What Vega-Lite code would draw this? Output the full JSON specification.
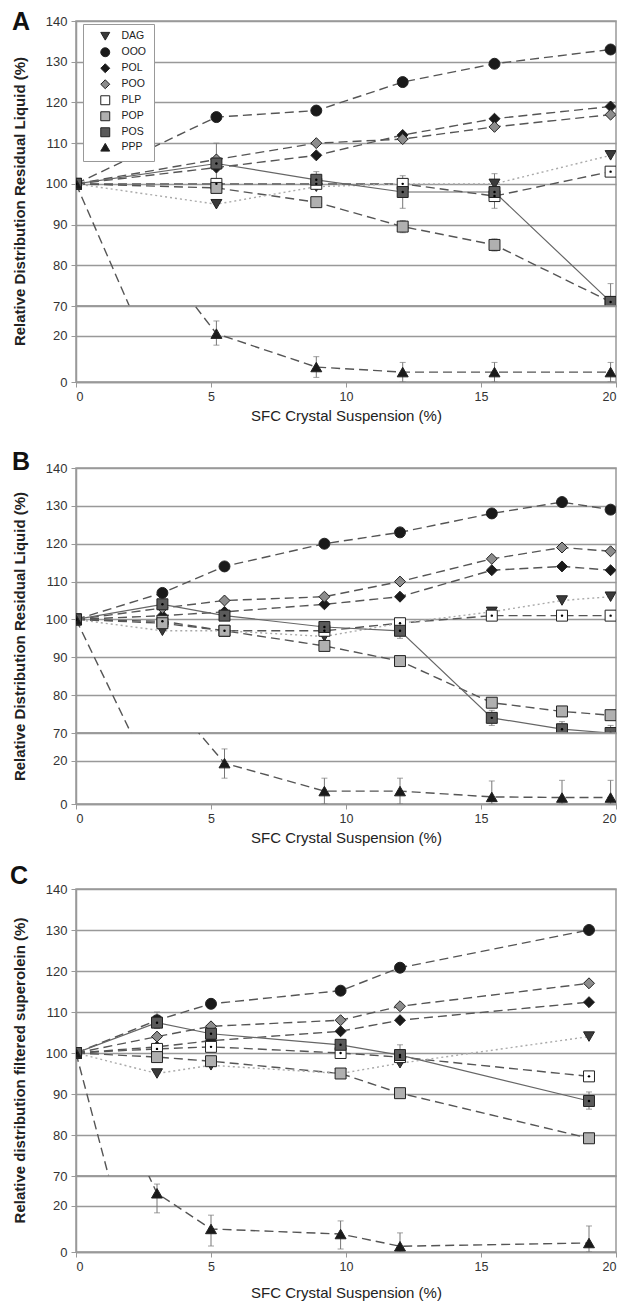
{
  "$schema": "https://vega.github.io/schema/vega-lite/v6.json",
  "padding": {"left": 9, "top": 9, "right": 8, "bottom": 0},
  "background": "white",
  "bounds": "flush",
  "spacing": 0,
  "resolve": {"scale": {"x": "independent", "y": "independent", "shape": "independent", "fill": "independent", "stroke": "independent"}},
  "config": {
    "font": "Liberation Sans",
    "view": {"stroke": "#999", "strokeWidth": 1.5},
    "axis": {"labelFont": "Liberation Sans", "titleFont": "Liberation Sans", "domainColor": "#999", "domainWidth": 1.5, "tickColor": "#999", "tickSize": 5, "gridColor": "#999", "gridWidth": 1.5, "labelColor": "#333", "titleColor": "#222"}
  },
  "datasets": {
    "d": [
      {"p":"A","s":"DAG","x":0,"y":100},{"p":"A","s":"DAG","x":5.2,"y":95},{"p":"A","s":"DAG","x":8.9,"y":99.3},{"p":"A","s":"DAG","x":12.1,"y":100},{"p":"A","s":"DAG","x":15.5,"y":100},{"p":"A","s":"DAG","x":19.8,"y":107},
      {"p":"A","s":"OOO","x":0,"y":100},{"p":"A","s":"OOO","x":5.2,"y":116.4},{"p":"A","s":"OOO","x":8.9,"y":118},{"p":"A","s":"OOO","x":12.1,"y":125},{"p":"A","s":"OOO","x":15.5,"y":129.5},{"p":"A","s":"OOO","x":19.8,"y":133},
      {"p":"A","s":"POL","x":0,"y":100},{"p":"A","s":"POL","x":5.2,"y":104},{"p":"A","s":"POL","x":8.9,"y":107},{"p":"A","s":"POL","x":12.1,"y":112},{"p":"A","s":"POL","x":15.5,"y":116},{"p":"A","s":"POL","x":19.8,"y":119},
      {"p":"A","s":"POO","x":0,"y":100},{"p":"A","s":"POO","x":5.2,"y":106},{"p":"A","s":"POO","x":8.9,"y":110},{"p":"A","s":"POO","x":12.1,"y":111},{"p":"A","s":"POO","x":15.5,"y":114},{"p":"A","s":"POO","x":19.8,"y":117},
      {"p":"A","s":"PLP","x":0,"y":100},{"p":"A","s":"PLP","x":5.2,"y":100},{"p":"A","s":"PLP","x":8.9,"y":100},{"p":"A","s":"PLP","x":12.1,"y":100},{"p":"A","s":"PLP","x":15.5,"y":97},{"p":"A","s":"PLP","x":19.8,"y":103},
      {"p":"A","s":"POP","x":0,"y":100},{"p":"A","s":"POP","x":5.2,"y":99},{"p":"A","s":"POP","x":8.9,"y":95.5,"lo":94.5,"hi":96.5},{"p":"A","s":"POP","x":12.1,"y":89.5,"lo":88,"hi":91},{"p":"A","s":"POP","x":15.5,"y":85,"lo":83.5,"hi":86.5},{"p":"A","s":"POP","x":19.8,"y":71},
      {"p":"A","s":"POS","x":0,"y":100},{"p":"A","s":"POS","x":5.2,"y":105,"lo":100,"hi":110},{"p":"A","s":"POS","x":8.9,"y":101,"lo":99,"hi":103},{"p":"A","s":"POS","x":12.1,"y":98,"lo":94,"hi":102},{"p":"A","s":"POS","x":15.5,"y":98,"lo":94,"hi":102.5},{"p":"A","s":"POS","x":19.8,"y":71,"lo":66.5,"hi":75.5},
      {"p":"A","s":"PPP","x":0,"y":100},{"p":"A","s":"PPP","x":5.2,"y":21,"lo":16,"hi":26.5},{"p":"A","s":"PPP","x":8.9,"y":6.5,"lo":2,"hi":11},{"p":"A","s":"PPP","x":12.1,"y":4.3,"lo":0,"hi":8.5},{"p":"A","s":"PPP","x":15.5,"y":4.3,"lo":0,"hi":8.5},{"p":"A","s":"PPP","x":19.8,"y":4.3,"lo":0,"hi":8.5},

      {"p":"B","s":"DAG","x":0,"y":100},{"p":"B","s":"DAG","x":3.2,"y":97},{"p":"B","s":"DAG","x":5.5,"y":97},{"p":"B","s":"DAG","x":9.2,"y":95.5},{"p":"B","s":"DAG","x":12,"y":99},{"p":"B","s":"DAG","x":15.4,"y":102},{"p":"B","s":"DAG","x":18,"y":105},{"p":"B","s":"DAG","x":19.8,"y":106},
      {"p":"B","s":"OOO","x":0,"y":100},{"p":"B","s":"OOO","x":3.2,"y":107},{"p":"B","s":"OOO","x":5.5,"y":114},{"p":"B","s":"OOO","x":9.2,"y":120},{"p":"B","s":"OOO","x":12,"y":123},{"p":"B","s":"OOO","x":15.4,"y":128},{"p":"B","s":"OOO","x":18,"y":131},{"p":"B","s":"OOO","x":19.8,"y":129},
      {"p":"B","s":"POL","x":0,"y":100},{"p":"B","s":"POL","x":3.2,"y":101},{"p":"B","s":"POL","x":5.5,"y":102},{"p":"B","s":"POL","x":9.2,"y":104},{"p":"B","s":"POL","x":12,"y":106},{"p":"B","s":"POL","x":15.4,"y":113},{"p":"B","s":"POL","x":18,"y":114},{"p":"B","s":"POL","x":19.8,"y":113},
      {"p":"B","s":"POO","x":0,"y":100},{"p":"B","s":"POO","x":3.2,"y":103},{"p":"B","s":"POO","x":5.5,"y":105},{"p":"B","s":"POO","x":9.2,"y":106},{"p":"B","s":"POO","x":12,"y":110},{"p":"B","s":"POO","x":15.4,"y":116},{"p":"B","s":"POO","x":18,"y":119},{"p":"B","s":"POO","x":19.8,"y":118},
      {"p":"B","s":"PLP","x":0,"y":100},{"p":"B","s":"PLP","x":3.2,"y":99.5},{"p":"B","s":"PLP","x":5.5,"y":97},{"p":"B","s":"PLP","x":9.2,"y":97},{"p":"B","s":"PLP","x":12,"y":99},{"p":"B","s":"PLP","x":15.4,"y":101},{"p":"B","s":"PLP","x":18,"y":101},{"p":"B","s":"PLP","x":19.8,"y":101},
      {"p":"B","s":"POP","x":0,"y":100},{"p":"B","s":"POP","x":3.2,"y":99},{"p":"B","s":"POP","x":5.5,"y":97},{"p":"B","s":"POP","x":9.2,"y":93},{"p":"B","s":"POP","x":12,"y":89},{"p":"B","s":"POP","x":15.4,"y":78},{"p":"B","s":"POP","x":18,"y":75.7},{"p":"B","s":"POP","x":19.8,"y":74.7},
      {"p":"B","s":"POS","x":0,"y":100},{"p":"B","s":"POS","x":3.2,"y":104},{"p":"B","s":"POS","x":5.5,"y":101},{"p":"B","s":"POS","x":9.2,"y":98},{"p":"B","s":"POS","x":12,"y":97,"lo":95,"hi":99},{"p":"B","s":"POS","x":15.4,"y":74,"lo":72,"hi":76},{"p":"B","s":"POS","x":18,"y":71,"lo":69,"hi":73},{"p":"B","s":"POS","x":19.8,"y":70,"lo":68,"hi":72},
      {"p":"B","s":"PPP","x":0,"y":100},{"p":"B","s":"PPP","x":5.5,"y":19,"lo":12,"hi":25.6},{"p":"B","s":"PPP","x":9.2,"y":6,"lo":0,"hi":12},{"p":"B","s":"PPP","x":12,"y":6,"lo":0,"hi":12},{"p":"B","s":"PPP","x":15.4,"y":3.3,"lo":0,"hi":10.7},{"p":"B","s":"PPP","x":18,"y":3,"lo":0,"hi":11},{"p":"B","s":"PPP","x":19.8,"y":3,"lo":0,"hi":11},

      {"p":"C","s":"DAG","x":0,"y":100},{"p":"C","s":"DAG","x":3,"y":95},{"p":"C","s":"DAG","x":5,"y":97},{"p":"C","s":"DAG","x":9.8,"y":95},{"p":"C","s":"DAG","x":12,"y":97.5},{"p":"C","s":"DAG","x":19,"y":104},
      {"p":"C","s":"OOO","x":0,"y":100},{"p":"C","s":"OOO","x":3,"y":108,"lo":106,"hi":110},{"p":"C","s":"OOO","x":5,"y":112},{"p":"C","s":"OOO","x":9.8,"y":115.2},{"p":"C","s":"OOO","x":12,"y":120.8},{"p":"C","s":"OOO","x":19,"y":130},
      {"p":"C","s":"POL","x":0,"y":100},{"p":"C","s":"POL","x":3,"y":101.5},{"p":"C","s":"POL","x":5,"y":103},{"p":"C","s":"POL","x":9.8,"y":105.3},{"p":"C","s":"POL","x":12,"y":108},{"p":"C","s":"POL","x":19,"y":112.4},
      {"p":"C","s":"POO","x":0,"y":100},{"p":"C","s":"POO","x":3,"y":104},{"p":"C","s":"POO","x":5,"y":106.5},{"p":"C","s":"POO","x":9.8,"y":108},{"p":"C","s":"POO","x":12,"y":111.4},{"p":"C","s":"POO","x":19,"y":117},
      {"p":"C","s":"PLP","x":0,"y":100},{"p":"C","s":"PLP","x":3,"y":101},{"p":"C","s":"PLP","x":5,"y":101.5},{"p":"C","s":"PLP","x":9.8,"y":100},{"p":"C","s":"PLP","x":12,"y":99},{"p":"C","s":"PLP","x":19,"y":94.3},
      {"p":"C","s":"POP","x":0,"y":100},{"p":"C","s":"POP","x":3,"y":99},{"p":"C","s":"POP","x":5,"y":98},{"p":"C","s":"POP","x":9.8,"y":95},{"p":"C","s":"POP","x":12,"y":90.2},{"p":"C","s":"POP","x":19,"y":79.2},
      {"p":"C","s":"POS","x":0,"y":100},{"p":"C","s":"POS","x":3,"y":107.4,"lo":106,"hi":109},{"p":"C","s":"POS","x":5,"y":104.7},{"p":"C","s":"POS","x":9.8,"y":102},{"p":"C","s":"POS","x":12,"y":99.5,"lo":97.5,"hi":102},{"p":"C","s":"POS","x":19,"y":88.3,"lo":86.3,"hi":90.5},
      {"p":"C","s":"PPP","x":0,"y":100},{"p":"C","s":"PPP","x":3,"y":25.5,"lo":17,"hi":29.5},{"p":"C","s":"PPP","x":5,"y":10,"lo":2.6,"hi":16},{"p":"C","s":"PPP","x":9.8,"y":7.8,"lo":1.3,"hi":13.5},{"p":"C","s":"PPP","x":12,"y":2.5,"lo":0,"hi":8.3},{"p":"C","s":"PPP","x":19,"y":3.9,"lo":0,"hi":11.3}
    ]
  },
  "vconcat": [
    {
      "width": 540, "height": 285,
      "title": {"text": "A", "anchor": "start", "frame": "group", "orient": "top", "offset": 0, "baseline": "alphabetic", "dx": -64, "dy": 40, "fontSize": 25, "fontWeight": "bold", "font": "Liberation Sans", "color": "#111"},
      "data": {"name": "d"},
      "transform": [{"filter": "datum.p === 'A'"}],
      "encoding": {
        "x": {"field": "x", "type": "quantitative", "scale": {"domain": [0, 20], "nice": false, "zero": false}, "axis": null},
        "y": {"field": "y", "type": "quantitative", "scale": {"domain": [70, 140], "nice": false, "zero": false}, "axis": {"values": [70, 80, 90, 100, 110, 120, 130, 140], "grid": true, "labelFontSize": 13, "labelPadding": 4, "title": "Relative Distribution Residual Liquid (%)", "titleFontSize": 15, "titleFontWeight": "bold", "titleX": -49, "titleY": 180}}
      },
      "layer": [
        {"transform": [{"filter": "datum.s !== 'DAG' && datum.s !== 'POS'"}], "mark": {"type": "line", "clip": true, "strokeWidth": 1.4, "color": "#555", "strokeDash": [9, 5]}, "encoding": {"detail": {"field": "s", "type": "nominal"}}},
        {"transform": [{"filter": "datum.s === 'DAG'"}], "mark": {"type": "line", "clip": true, "strokeWidth": 1.4, "color": "#aaa", "strokeDash": [2, 3]}, "encoding": {}},
        {"transform": [{"filter": "datum.s === 'POS'"}], "mark": {"type": "line", "clip": true, "strokeWidth": 1.2, "color": "#666"}, "encoding": {}},
        {"transform": [{"filter": "isValid(datum.lo)"}], "mark": {"type": "rule", "clip": true, "color": "#777", "strokeWidth": 1},
         "encoding": {"y": {"field": "lo", "type": "quantitative", "scale": {"domain": [70, 140], "nice": false, "zero": false}}, "y2": {"field": "hi"}}},
        {"transform": [{"filter": "isValid(datum.lo)"}], "mark": {"type": "tick", "orient": "horizontal", "clip": true, "color": "#777", "size": 6, "thickness": 1},
         "encoding": {"y": {"field": "hi", "type": "quantitative", "scale": {"domain": [70, 140], "nice": false, "zero": false}}}},
        {"transform": [{"filter": "isValid(datum.lo)"}], "mark": {"type": "tick", "orient": "horizontal", "clip": true, "color": "#777", "size": 6, "thickness": 1},
         "encoding": {"y": {"field": "lo", "type": "quantitative", "scale": {"domain": [70, 140], "nice": false, "zero": false}}}},
        {"mark": {"type": "point", "filled": true, "clip": true, "strokeWidth": 1, "size": 120, "opacity": 1},
         "encoding": {
           "shape": {"field": "s", "type": "nominal", "scale": {"domain": ["DAG","OOO","POL","POO","PLP","POP","POS","PPP"], "range": ["triangle-down","circle","diamond","diamond","square","square","square","triangle-up"]},
             "legend": {"title": null, "orient": "none", "legendX": 7, "legendY": 3, "padding": 7, "rowPadding": 2, "strokeColor": "#999", "fillColor": "white", "symbolSize": 80, "symbolStrokeWidth": 1, "labelFont": "Liberation Sans", "labelFontSize": 10.5, "labelColor": "#222", "labelOffset": 11, "symbolOffset": 10}},
           "fill": {"field": "s", "type": "nominal", "scale": {"domain": ["DAG","OOO","POL","POO","PLP","POP","POS","PPP"], "range": ["#3a3a3a","#1a1a1a","#1a1a1a","#8c8c8c","#ffffff","#b0b0b0","#5a5a5a","#1a1a1a"]},
             "legend": {"title": null, "orient": "none", "legendX": 7, "legendY": 3, "padding": 7, "rowPadding": 2, "strokeColor": "#999", "fillColor": "white", "symbolSize": 80, "symbolStrokeWidth": 1, "labelFont": "Liberation Sans", "labelFontSize": 10.5, "labelColor": "#222", "labelOffset": 11, "symbolOffset": 10}},
           "stroke": {"field": "s", "type": "nominal", "scale": {"domain": ["DAG","OOO","POL","POO","PLP","POP","POS","PPP"], "range": ["#222222","#222222","#222222","#222222","#222222","#222222","#222222","#222222"]},
             "legend": {"title": null, "orient": "none", "legendX": 7, "legendY": 3, "padding": 7, "rowPadding": 2, "strokeColor": "#999", "fillColor": "white", "symbolSize": 80, "symbolStrokeWidth": 1, "labelFont": "Liberation Sans", "labelFontSize": 10.5, "labelColor": "#222", "labelOffset": 11, "symbolOffset": 10}}}},
        {"transform": [{"filter": "datum.s === 'PLP' || datum.s === 'POS'"}], "mark": {"type": "point", "filled": true, "clip": true, "shape": "circle", "size": 6, "color": "#000", "opacity": 1}}
      ]
    },
    {
      "width": 540, "height": 76,
      "data": {"name": "d"},
      "transform": [{"filter": "datum.p === 'A' && datum.s === 'PPP'"}],
      "encoding": {
        "x": {"field": "x", "type": "quantitative", "scale": {"domain": [0, 20], "nice": false, "zero": false}, "axis": {"values": [0, 5, 10, 15, 20], "grid": false, "labelFontSize": 12.5, "labelPadding": 3, "title": "SFC Crystal Suspension (%)", "titleFontSize": 15, "titleFontWeight": "normal", "titlePadding": 6}},
        "y": {"field": "y", "type": "quantitative", "scale": {"domain": [0, 33], "nice": false, "zero": false}, "axis": {"values": [0, 20], "grid": true, "labelFontSize": 13, "labelPadding": 4, "title": null}}
      },
      "layer": [
        {"mark": {"type": "line", "clip": true, "strokeWidth": 1.4, "color": "#555", "strokeDash": [9, 5]}, "encoding": {}},
        {"transform": [{"filter": "isValid(datum.lo)"}], "mark": {"type": "rule", "clip": true, "color": "#777", "strokeWidth": 1},
         "encoding": {"y": {"field": "lo", "type": "quantitative", "scale": {"domain": [0, 33], "nice": false, "zero": false}}, "y2": {"field": "hi"}}},
        {"transform": [{"filter": "isValid(datum.lo)"}], "mark": {"type": "tick", "orient": "horizontal", "clip": true, "color": "#777", "size": 6, "thickness": 1},
         "encoding": {"y": {"field": "hi", "type": "quantitative", "scale": {"domain": [0, 33], "nice": false, "zero": false}}}},
        {"transform": [{"filter": "isValid(datum.lo)"}], "mark": {"type": "tick", "orient": "horizontal", "clip": true, "color": "#777", "size": 6, "thickness": 1},
         "encoding": {"y": {"field": "lo", "type": "quantitative", "scale": {"domain": [0, 33], "nice": false, "zero": false}}}},
        {"mark": {"type": "point", "filled": true, "clip": true, "stroke": "#222", "strokeWidth": 1, "size": 120, "opacity": 1, "shape": "triangle-up", "fill": "#1a1a1a"}},
        {"data": {"values": [{}]}, "mark": {"type": "point", "shape": "M -0.85 0.9 L 0.85 -0.7 L 0.85 0 L -0.85 1.6 Z", "size": 256, "filled": true, "fill": "white", "strokeWidth": 0, "opacity": 1},
         "encoding": {"x": {"datum": 0, "type": "quantitative", "scale": {"domain": [0, 20], "nice": false, "zero": false}}, "y": {"datum": 33, "type": "quantitative", "scale": {"domain": [0, 33], "nice": false, "zero": false}}}},
        {"data": {"values": [{}]}, "mark": {"type": "point", "shape": "M -0.85 0.9 L 0.85 -0.7 M -0.85 1.6 L 0.85 0", "size": 256, "filled": false, "stroke": "#666", "strokeWidth": 1.2, "opacity": 1},
         "encoding": {"x": {"datum": 0, "type": "quantitative", "scale": {"domain": [0, 20], "nice": false, "zero": false}}, "y": {"datum": 33, "type": "quantitative", "scale": {"domain": [0, 33], "nice": false, "zero": false}}}},
        {"data": {"values": [{}]}, "mark": {"type": "point", "shape": "M -0.85 0.9 L 0.85 -0.7 L 0.85 0 L -0.85 1.6 Z", "size": 256, "filled": true, "fill": "white", "strokeWidth": 0, "opacity": 1},
         "encoding": {"x": {"datum": 20, "type": "quantitative", "scale": {"domain": [0, 20], "nice": false, "zero": false}}, "y": {"datum": 33, "type": "quantitative", "scale": {"domain": [0, 33], "nice": false, "zero": false}}}},
        {"data": {"values": [{}]}, "mark": {"type": "point", "shape": "M -0.85 0.9 L 0.85 -0.7 M -0.85 1.6 L 0.85 0", "size": 256, "filled": false, "stroke": "#666", "strokeWidth": 1.2, "opacity": 1},
         "encoding": {"x": {"datum": 20, "type": "quantitative", "scale": {"domain": [0, 20], "nice": false, "zero": false}}, "y": {"datum": 33, "type": "quantitative", "scale": {"domain": [0, 33], "nice": false, "zero": false}}}}
      ]
    },
    {
      "width": 540, "height": 86,
      "view": {"stroke": null},
      "data": {"values": [{}]},
      "mark": {"type": "text", "text": " "}
    },
    {
      "width": 540, "height": 265,
      "title": {"text": "B", "anchor": "start", "frame": "group", "orient": "top", "offset": 0, "baseline": "alphabetic", "dx": -64, "dy": 33, "fontSize": 25, "fontWeight": "bold", "font": "Liberation Sans", "color": "#111"},
      "data": {"name": "d"},
      "transform": [{"filter": "datum.p === 'B'"}],
      "encoding": {
        "x": {"field": "x", "type": "quantitative", "scale": {"domain": [0, 20], "nice": false, "zero": false}, "axis": null},
        "y": {"field": "y", "type": "quantitative", "scale": {"domain": [70, 140], "nice": false, "zero": false}, "axis": {"values": [70, 80, 90, 100, 110, 120, 130, 140], "grid": true, "labelFontSize": 13, "labelPadding": 4, "title": "Relative Distribution Residual Liquid (%)", "titleFontSize": 15, "titleFontWeight": "bold", "titleX": -49, "titleY": 168}}
      },
      "layer": [
        {"transform": [{"filter": "datum.s !== 'DAG' && datum.s !== 'POS'"}], "mark": {"type": "line", "clip": true, "strokeWidth": 1.4, "color": "#555", "strokeDash": [9, 5]}, "encoding": {"detail": {"field": "s", "type": "nominal"}}},
        {"transform": [{"filter": "datum.s === 'DAG'"}], "mark": {"type": "line", "clip": true, "strokeWidth": 1.4, "color": "#aaa", "strokeDash": [2, 3]}, "encoding": {}},
        {"transform": [{"filter": "datum.s === 'POS'"}], "mark": {"type": "line", "clip": true, "strokeWidth": 1.2, "color": "#666"}, "encoding": {}},
        {"transform": [{"filter": "isValid(datum.lo)"}], "mark": {"type": "rule", "clip": true, "color": "#777", "strokeWidth": 1},
         "encoding": {"y": {"field": "lo", "type": "quantitative", "scale": {"domain": [70, 140], "nice": false, "zero": false}}, "y2": {"field": "hi"}}},
        {"transform": [{"filter": "isValid(datum.lo)"}], "mark": {"type": "tick", "orient": "horizontal", "clip": true, "color": "#777", "size": 6, "thickness": 1},
         "encoding": {"y": {"field": "hi", "type": "quantitative", "scale": {"domain": [70, 140], "nice": false, "zero": false}}}},
        {"transform": [{"filter": "isValid(datum.lo)"}], "mark": {"type": "tick", "orient": "horizontal", "clip": true, "color": "#777", "size": 6, "thickness": 1},
         "encoding": {"y": {"field": "lo", "type": "quantitative", "scale": {"domain": [70, 140], "nice": false, "zero": false}}}},
        {"mark": {"type": "point", "filled": true, "clip": true, "stroke": "#222", "strokeWidth": 1, "size": 120, "opacity": 1},
         "encoding": {
           "shape": {"field": "s", "type": "nominal", "scale": {"domain": ["DAG","OOO","POL","POO","PLP","POP","POS","PPP"], "range": ["triangle-down","circle","diamond","diamond","square","square","square","triangle-up"]}, "legend": null},
           "fill": {"field": "s", "type": "nominal", "scale": {"domain": ["DAG","OOO","POL","POO","PLP","POP","POS","PPP"], "range": ["#3a3a3a","#1a1a1a","#1a1a1a","#8c8c8c","#ffffff","#b0b0b0","#5a5a5a","#1a1a1a"]}, "legend": null}}},
        {"transform": [{"filter": "datum.s === 'PLP' || datum.s === 'POS'"}], "mark": {"type": "point", "filled": true, "clip": true, "shape": "circle", "size": 6, "color": "#000", "opacity": 1}}
      ]
    },
    {
      "width": 540, "height": 71,
      "data": {"name": "d"},
      "transform": [{"filter": "datum.p === 'B' && datum.s === 'PPP'"}],
      "encoding": {
        "x": {"field": "x", "type": "quantitative", "scale": {"domain": [0, 20], "nice": false, "zero": false}, "axis": {"values": [0, 5, 10, 15, 20], "grid": false, "labelFontSize": 12.5, "labelPadding": 3, "title": "SFC Crystal Suspension (%)", "titleFontSize": 15, "titleFontWeight": "normal", "titlePadding": 6}},
        "y": {"field": "y", "type": "quantitative", "scale": {"domain": [0, 33], "nice": false, "zero": false}, "axis": {"values": [0, 20], "grid": true, "labelFontSize": 13, "labelPadding": 4, "title": null}}
      },
      "layer": [
        {"mark": {"type": "line", "clip": true, "strokeWidth": 1.4, "color": "#555", "strokeDash": [9, 5]}, "encoding": {}},
        {"transform": [{"filter": "isValid(datum.lo)"}], "mark": {"type": "rule", "clip": true, "color": "#777", "strokeWidth": 1},
         "encoding": {"y": {"field": "lo", "type": "quantitative", "scale": {"domain": [0, 33], "nice": false, "zero": false}}, "y2": {"field": "hi"}}},
        {"transform": [{"filter": "isValid(datum.lo)"}], "mark": {"type": "tick", "orient": "horizontal", "clip": true, "color": "#777", "size": 6, "thickness": 1},
         "encoding": {"y": {"field": "hi", "type": "quantitative", "scale": {"domain": [0, 33], "nice": false, "zero": false}}}},
        {"transform": [{"filter": "isValid(datum.lo)"}], "mark": {"type": "tick", "orient": "horizontal", "clip": true, "color": "#777", "size": 6, "thickness": 1},
         "encoding": {"y": {"field": "lo", "type": "quantitative", "scale": {"domain": [0, 33], "nice": false, "zero": false}}}},
        {"mark": {"type": "point", "filled": true, "clip": true, "stroke": "#222", "strokeWidth": 1, "size": 120, "opacity": 1, "shape": "triangle-up", "fill": "#1a1a1a"}},
        {"data": {"values": [{}]}, "mark": {"type": "point", "shape": "M -0.85 0.9 L 0.85 -0.7 L 0.85 0 L -0.85 1.6 Z", "size": 256, "filled": true, "fill": "white", "strokeWidth": 0, "opacity": 1},
         "encoding": {"x": {"datum": 0, "type": "quantitative", "scale": {"domain": [0, 20], "nice": false, "zero": false}}, "y": {"datum": 33, "type": "quantitative", "scale": {"domain": [0, 33], "nice": false, "zero": false}}}},
        {"data": {"values": [{}]}, "mark": {"type": "point", "shape": "M -0.85 0.9 L 0.85 -0.7 M -0.85 1.6 L 0.85 0", "size": 256, "filled": false, "stroke": "#666", "strokeWidth": 1.2, "opacity": 1},
         "encoding": {"x": {"datum": 0, "type": "quantitative", "scale": {"domain": [0, 20], "nice": false, "zero": false}}, "y": {"datum": 33, "type": "quantitative", "scale": {"domain": [0, 33], "nice": false, "zero": false}}}},
        {"data": {"values": [{}]}, "mark": {"type": "point", "shape": "M -0.85 0.9 L 0.85 -0.7 L 0.85 0 L -0.85 1.6 Z", "size": 256, "filled": true, "fill": "white", "strokeWidth": 0, "opacity": 1},
         "encoding": {"x": {"datum": 20, "type": "quantitative", "scale": {"domain": [0, 20], "nice": false, "zero": false}}, "y": {"datum": 33, "type": "quantitative", "scale": {"domain": [0, 33], "nice": false, "zero": false}}}},
        {"data": {"values": [{}]}, "mark": {"type": "point", "shape": "M -0.85 0.9 L 0.85 -0.7 M -0.85 1.6 L 0.85 0", "size": 256, "filled": false, "stroke": "#666", "strokeWidth": 1.2, "opacity": 1},
         "encoding": {"x": {"datum": 20, "type": "quantitative", "scale": {"domain": [0, 20], "nice": false, "zero": false}}, "y": {"datum": 33, "type": "quantitative", "scale": {"domain": [0, 33], "nice": false, "zero": false}}}}
      ]
    },
    {
      "width": 540, "height": 85,
      "view": {"stroke": null},
      "data": {"values": [{}]},
      "mark": {"type": "text", "text": " "}
    },
    {
      "width": 540, "height": 287,
      "title": {"text": "C", "anchor": "start", "frame": "group", "orient": "top", "offset": 0, "baseline": "alphabetic", "dx": -66, "dy": 26, "fontSize": 25, "fontWeight": "bold", "font": "Liberation Sans", "color": "#111"},
      "data": {"name": "d"},
      "transform": [{"filter": "datum.p === 'C'"}],
      "encoding": {
        "x": {"field": "x", "type": "quantitative", "scale": {"domain": [0, 20], "nice": false, "zero": false}, "axis": null},
        "y": {"field": "y", "type": "quantitative", "scale": {"domain": [70, 140], "nice": false, "zero": false}, "axis": {"values": [70, 80, 90, 100, 110, 120, 130, 140], "grid": true, "labelFontSize": 13, "labelPadding": 4, "title": "Relative distribution filtered superolein (%)", "titleFontSize": 15, "titleFontWeight": "bold", "titleX": -49, "titleY": 181}}
      },
      "layer": [
        {"transform": [{"filter": "datum.s !== 'DAG' && datum.s !== 'POS'"}], "mark": {"type": "line", "clip": true, "strokeWidth": 1.4, "color": "#555", "strokeDash": [9, 5]}, "encoding": {"detail": {"field": "s", "type": "nominal"}}},
        {"transform": [{"filter": "datum.s === 'DAG'"}], "mark": {"type": "line", "clip": true, "strokeWidth": 1.4, "color": "#aaa", "strokeDash": [2, 3]}, "encoding": {}},
        {"transform": [{"filter": "datum.s === 'POS'"}], "mark": {"type": "line", "clip": true, "strokeWidth": 1.2, "color": "#666"}, "encoding": {}},
        {"transform": [{"filter": "isValid(datum.lo)"}], "mark": {"type": "rule", "clip": true, "color": "#777", "strokeWidth": 1},
         "encoding": {"y": {"field": "lo", "type": "quantitative", "scale": {"domain": [70, 140], "nice": false, "zero": false}}, "y2": {"field": "hi"}}},
        {"transform": [{"filter": "isValid(datum.lo)"}], "mark": {"type": "tick", "orient": "horizontal", "clip": true, "color": "#777", "size": 6, "thickness": 1},
         "encoding": {"y": {"field": "hi", "type": "quantitative", "scale": {"domain": [70, 140], "nice": false, "zero": false}}}},
        {"transform": [{"filter": "isValid(datum.lo)"}], "mark": {"type": "tick", "orient": "horizontal", "clip": true, "color": "#777", "size": 6, "thickness": 1},
         "encoding": {"y": {"field": "lo", "type": "quantitative", "scale": {"domain": [70, 140], "nice": false, "zero": false}}}},
        {"mark": {"type": "point", "filled": true, "clip": true, "stroke": "#222", "strokeWidth": 1, "size": 120, "opacity": 1},
         "encoding": {
           "shape": {"field": "s", "type": "nominal", "scale": {"domain": ["DAG","OOO","POL","POO","PLP","POP","POS","PPP"], "range": ["triangle-down","circle","diamond","diamond","square","square","square","triangle-up"]}, "legend": null},
           "fill": {"field": "s", "type": "nominal", "scale": {"domain": ["DAG","OOO","POL","POO","PLP","POP","POS","PPP"], "range": ["#3a3a3a","#1a1a1a","#1a1a1a","#8c8c8c","#ffffff","#b0b0b0","#5a5a5a","#1a1a1a"]}, "legend": null}}},
        {"transform": [{"filter": "datum.s === 'PLP' || datum.s === 'POS'"}], "mark": {"type": "point", "filled": true, "clip": true, "shape": "circle", "size": 6, "color": "#000", "opacity": 1}}
      ]
    },
    {
      "width": 540, "height": 76,
      "data": {"name": "d"},
      "transform": [{"filter": "datum.p === 'C' && datum.s === 'PPP'"}],
      "encoding": {
        "x": {"field": "x", "type": "quantitative", "scale": {"domain": [0, 20], "nice": false, "zero": false}, "axis": {"values": [0, 5, 10, 15, 20], "grid": false, "labelFontSize": 12.5, "labelPadding": 3, "title": "SFC Crystal Suspension (%)", "titleFontSize": 15, "titleFontWeight": "normal", "titlePadding": 13}},
        "y": {"field": "y", "type": "quantitative", "scale": {"domain": [0, 33], "nice": false, "zero": false}, "axis": {"values": [0, 20], "grid": true, "labelFontSize": 13, "labelPadding": 4, "title": null}}
      },
      "layer": [
        {"mark": {"type": "line", "clip": true, "strokeWidth": 1.4, "color": "#555", "strokeDash": [9, 5]}, "encoding": {}},
        {"transform": [{"filter": "isValid(datum.lo)"}], "mark": {"type": "rule", "clip": true, "color": "#777", "strokeWidth": 1},
         "encoding": {"y": {"field": "lo", "type": "quantitative", "scale": {"domain": [0, 33], "nice": false, "zero": false}}, "y2": {"field": "hi"}}},
        {"transform": [{"filter": "isValid(datum.lo)"}], "mark": {"type": "tick", "orient": "horizontal", "clip": true, "color": "#777", "size": 6, "thickness": 1},
         "encoding": {"y": {"field": "hi", "type": "quantitative", "scale": {"domain": [0, 33], "nice": false, "zero": false}}}},
        {"transform": [{"filter": "isValid(datum.lo)"}], "mark": {"type": "tick", "orient": "horizontal", "clip": true, "color": "#777", "size": 6, "thickness": 1},
         "encoding": {"y": {"field": "lo", "type": "quantitative", "scale": {"domain": [0, 33], "nice": false, "zero": false}}}},
        {"mark": {"type": "point", "filled": true, "clip": true, "stroke": "#222", "strokeWidth": 1, "size": 120, "opacity": 1, "shape": "triangle-up", "fill": "#1a1a1a"}},
        {"data": {"values": [{}]}, "mark": {"type": "point", "shape": "M -0.85 0.9 L 0.85 -0.7 L 0.85 0 L -0.85 1.6 Z", "size": 256, "filled": true, "fill": "white", "strokeWidth": 0, "opacity": 1},
         "encoding": {"x": {"datum": 0, "type": "quantitative", "scale": {"domain": [0, 20], "nice": false, "zero": false}}, "y": {"datum": 33, "type": "quantitative", "scale": {"domain": [0, 33], "nice": false, "zero": false}}}},
        {"data": {"values": [{}]}, "mark": {"type": "point", "shape": "M -0.85 0.9 L 0.85 -0.7 M -0.85 1.6 L 0.85 0", "size": 256, "filled": false, "stroke": "#666", "strokeWidth": 1.2, "opacity": 1},
         "encoding": {"x": {"datum": 0, "type": "quantitative", "scale": {"domain": [0, 20], "nice": false, "zero": false}}, "y": {"datum": 33, "type": "quantitative", "scale": {"domain": [0, 33], "nice": false, "zero": false}}}},
        {"data": {"values": [{}]}, "mark": {"type": "point", "shape": "M -0.85 0.9 L 0.85 -0.7 L 0.85 0 L -0.85 1.6 Z", "size": 256, "filled": true, "fill": "white", "strokeWidth": 0, "opacity": 1},
         "encoding": {"x": {"datum": 20, "type": "quantitative", "scale": {"domain": [0, 20], "nice": false, "zero": false}}, "y": {"datum": 33, "type": "quantitative", "scale": {"domain": [0, 33], "nice": false, "zero": false}}}},
        {"data": {"values": [{}]}, "mark": {"type": "point", "shape": "M -0.85 0.9 L 0.85 -0.7 M -0.85 1.6 L 0.85 0", "size": 256, "filled": false, "stroke": "#666", "strokeWidth": 1.2, "opacity": 1},
         "encoding": {"x": {"datum": 20, "type": "quantitative", "scale": {"domain": [0, 20], "nice": false, "zero": false}}, "y": {"datum": 33, "type": "quantitative", "scale": {"domain": [0, 33], "nice": false, "zero": false}}}}
      ]
    }
  ]
}
